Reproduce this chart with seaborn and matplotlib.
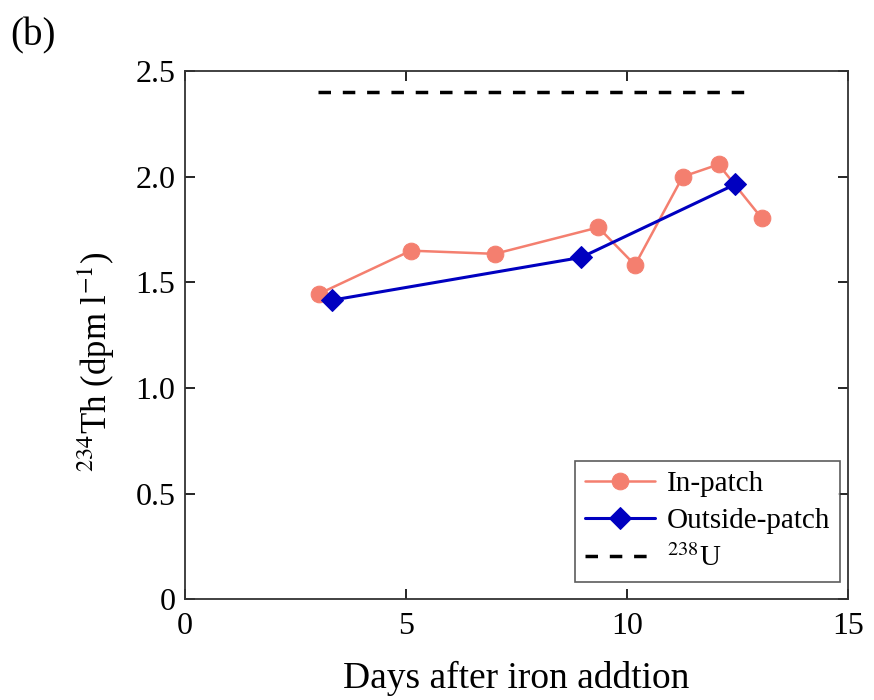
import matplotlib
matplotlib.use("Agg")
import matplotlib.pyplot as plt
import pandas as pd
import seaborn as sns

# ── Data ─────────────────────────────────────────────────────────────────────
in_days = [3.02, 5.11, 7.01, 9.35, 10.18, 11.26, 12.07, 13.05]
in_th = [1.445, 1.65, 1.635, 1.76, 1.582, 2.00, 2.058, 1.803]

out_days = [3.33, 8.96, 12.45]
out_th = [1.416, 1.618, 1.964]

u238_days = [3.0, 12.8]
u238_level = [2.40, 2.40]

x_ticks = [0, 5, 10, 15]
y_ticks = [0, 0.5, 1.0, 1.5, 2.0, 2.5]
y_tick_labels = ["0", "0.5", "1.0", "1.5", "2.0", "2.5"]

sns.set_style("ticks")
plt.rcParams["font.family"] = ["Liberation Serif", "DejaVu Serif"]
plt.rcParams["mathtext.fontset"] = "stix"
plt.rcParams["text.color"] = "black"
plt.rcParams["axes.labelcolor"] = "black"
plt.rcParams["xtick.color"] = "black"
plt.rcParams["ytick.color"] = "black"

df_in = pd.DataFrame({"day": in_days, "th": in_th})
df_out = pd.DataFrame({"day": out_days, "th": out_th})
df_u = pd.DataFrame({"day": u238_days, "th": u238_level})

fig = plt.figure(figsize=(8.74, 7.0), dpi=100)
ax = fig.add_axes([0.2117, 0.1436, 0.7586, 0.755])

sns.lineplot(data=df_in, x="day", y="th", ax=ax, color="#F47F6F", lw=1.8,
             marker="o", markersize=12, markeredgecolor="#F47F6F",
             label="In-patch")
sns.lineplot(data=df_out, x="day", y="th", ax=ax, color="#0000C0", lw=2.2,
             marker="D", markersize=11, markeredgecolor="#0000C0",
             label="Outside-patch")
sns.lineplot(data=df_u, x="day", y="th", ax=ax, color="black", lw=2.5,
             linestyle=(0, (3.6, 3.4)), label="$^{238}$U")

ax.set_xlim(0, 15)
ax.set_ylim(0, 2.5)
ax.set_xticks(x_ticks)
ax.set_yticks(y_ticks)
ax.set_yticklabels(y_tick_labels)
ax.tick_params(direction="in", length=7, width=1.2, labelsize=23,
               top=True, right=True)
ax.tick_params(axis="x", pad=9)
ax.tick_params(axis="y", pad=7)
for s in ax.spines.values():
    s.set_linewidth(1.3)
    s.set_color("#333333")

ax.set_xlabel("Days after iron addtion", fontsize=27, labelpad=14)
ax.set_ylabel(r"$^{234}$Th (dpm l$^{-1}$)", fontsize=25)
ax.yaxis.set_label_coords(-0.103, 0.45)

leg = ax.legend(loc="lower right", fontsize=21, frameon=True, fancybox=False,
                edgecolor="#333333", handlelength=2.4, borderpad=0.35,
                labelspacing=0.35, handletextpad=0.4, borderaxespad=0,
                bbox_to_anchor=(0.988, 0.033))
leg.get_frame().set_linewidth(1.2)

fig.text(0.012, 0.975, "(b)", fontsize=28, va="top", ha="left")

plt.savefig("out.png", dpi=100)
